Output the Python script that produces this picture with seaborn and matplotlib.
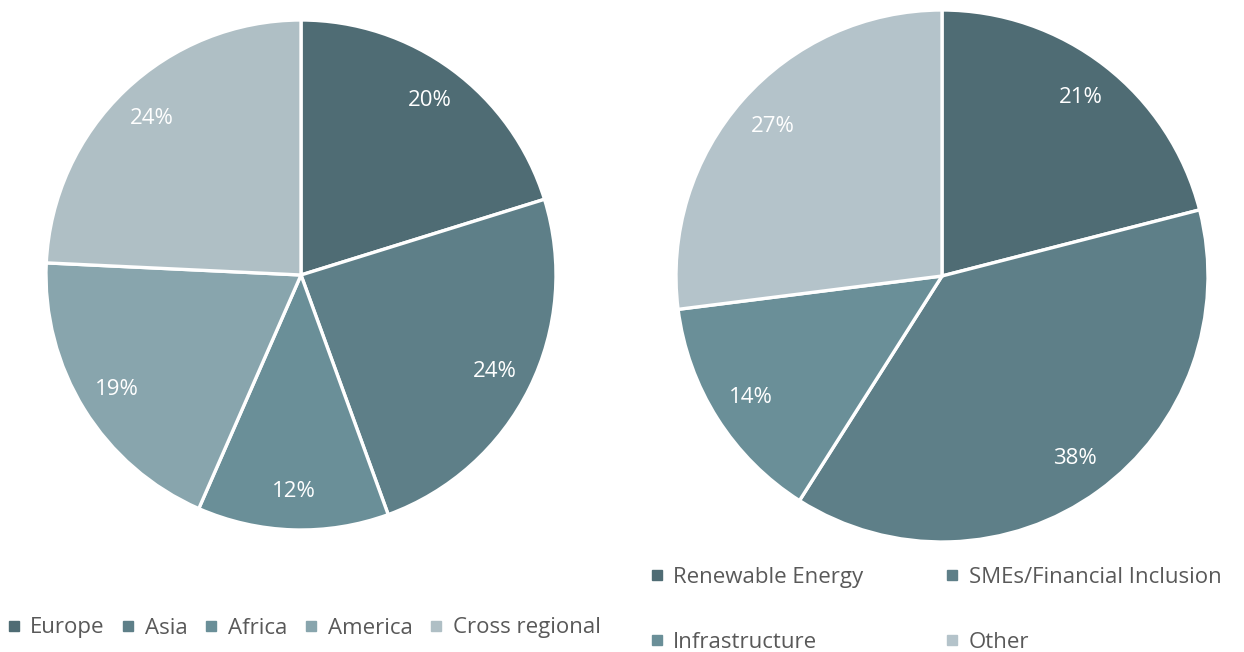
import matplotlib
matplotlib.use("Agg")
import matplotlib.pyplot as plt
from matplotlib.lines import Line2D
import seaborn as sns

# Allocation by region
region_labels = ["Europe", "Asia", "Africa", "America", "Cross regional"]
region_values = [20, 24, 12, 19, 24]
region_colors = ["#4F6C74", "#5E7F88", "#6A8F98", "#88A5AD", "#AFBFC5"]

# Allocation by sector
sector_labels = ["Renewable Energy", "SMEs/Financial Inclusion", "Infrastructure", "Other"]
sector_values = [21, 38, 14, 27]
sector_colors = ["#4F6C74", "#5E7F88", "#6A8F98", "#B4C3CA"]

sns.set_theme(style="white")
plt.rcParams["font.family"] = ["Open Sans", "DejaVu Sans"]

W, H = 1244, 652
fig = plt.figure(figsize=(W / 100, H / 100), dpi=100)
fig.patch.set_facecolor("white")


def pie_axes(cx, cy, r):
    ax = fig.add_axes([(cx - r) / W, (H - cy - r) / H, 2 * r / W, 2 * r / H])
    return ax


def draw_pie(ax, values, colors):
    ax.pie(values, colors=colors, startangle=90, counterclock=False, radius=1,
           autopct=lambda p: f"{p:.0f}%", pctdistance=0.85,
           wedgeprops=dict(edgecolor="white", linewidth=2.4),
           textprops=dict(color="white", fontsize=16))
    ax.set_xlim(-1, 1)
    ax.set_ylim(-1, 1)
    ax.set_aspect("equal")
    ax.axis("off")


ax1 = pie_axes(301, 275, 255)
draw_pie(ax1, region_values, region_colors)

ax2 = pie_axes(942, 276, 266)
draw_pie(ax2, sector_values, sector_colors)


def handles(labels, colors):
    return [Line2D([], [], marker="s", linestyle="none", markersize=7,
                   markerfacecolor=c, markeredgecolor=c, label=l)
            for l, c in zip(labels, colors)]


leg1 = fig.legend(handles=handles(region_labels, region_colors), ncol=5,
                  loc="center left", bbox_to_anchor=(-2 / W, 1 - 628 / H),
                  frameon=False, fontsize=16, handlelength=0.6,
                  handletextpad=0.45, columnspacing=0.76, borderaxespad=0)
for t in leg1.get_texts():
    t.set_color("#595959")

# two-column legend filled row by row
order = [0, 2, 1, 3]
leg2 = fig.legend(handles=[handles(sector_labels, sector_colors)[i] for i in order],
                  ncol=2, loc="center left", bbox_to_anchor=(641 / W, 1 - 610 / H),
                  frameon=False, fontsize=16, handlelength=0.6,
                  handletextpad=0.45, columnspacing=3.7, labelspacing=1.96,
                  borderaxespad=0)
for t in leg2.get_texts():
    t.set_color("#595959")

fig.savefig("out.png", dpi=100, facecolor="white")
